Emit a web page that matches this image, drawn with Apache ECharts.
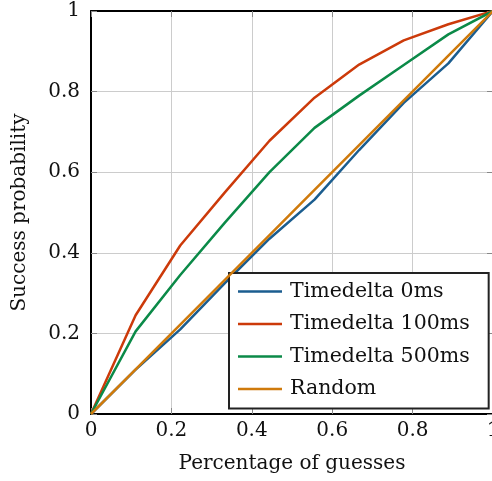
<!DOCTYPE html>
<html><head><meta charset="utf-8">
<script src="https://cdn.jsdelivr.net/npm/echarts@6/dist/echarts.min.js"></script>
<style>html,body{margin:0;padding:0;background:#fff}#c{width:492px;height:481px}</style>
</head><body><div id="c"></div>
<script>
const xValues = [0, 0.111, 0.222, 0.333, 0.444, 0.556, 0.667, 0.778, 0.889, 1];
const td0 = [0, 0.11, 0.21, 0.325, 0.435, 0.532, 0.655, 0.772, 0.87, 1];
const td100 = [0, 0.245, 0.418, 0.55, 0.678, 0.785, 0.867, 0.927, 0.967, 1];
const td500 = [0, 0.205, 0.345, 0.475, 0.6, 0.71, 0.79, 0.866, 0.942, 1];
const randomVals = [0, 0.111, 0.222, 0.333, 0.444, 0.556, 0.667, 0.778, 0.889, 1];
const seriesNames = ['Timedelta 0ms', 'Timedelta 100ms', 'Timedelta 500ms', 'Random'];
const colors = ['#1b5d8f', '#cc3a0a', '#0b8a48', '#cf7a0c'];
const tickLabelsX = ['0', '0.2', '0.4', '0.6', '0.8', '1'];
const tickLabelsY = ['0', '0.2', '0.4', '0.6', '0.8', '1'];

const FONT = 'DejaVu Serif';
const pair = ys => xValues.map((x, i) => [x, ys[i]]);
const allY = [td0, td100, td500, randomVals];

const fmt = labels => v => labels[Math.round(v / 0.2)] ?? '';

const chart = echarts.init(document.getElementById('c'), null, {renderer: 'canvas'});
chart.setOption({
  animation: false,
  backgroundColor: '#fff',
  grid: {left: 91, top: 11, width: 402, height: 403, containLabel: false, outerBoundsMode: 'none'},
  xAxis: [{
    type: 'value', min: 0, max: 1, interval: 0.2, position: 'bottom',
    name: 'Percentage of guesses', nameLocation: 'middle', nameGap: 40,
    nameTextStyle: {fontFamily: FONT, fontSize: 20, color: '#111'},
    axisLine: {show: true, onZero: false, lineStyle: {color: '#000', width: 2}},
    axisTick: {show: true, inside: true, length: 6, lineStyle: {color: '#888'}},
    axisLabel: {formatter: fmt(tickLabelsX), fontFamily: FONT, fontSize: 20, color: '#111', margin: 7},
    splitLine: {show: true, lineStyle: {color: '#cccccc', width: 1}}
  }, {
    type: 'value', min: 0, max: 1, interval: 0.2, position: 'top',
    axisLine: {show: true, onZero: false, lineStyle: {color: '#000', width: 2}},
    axisTick: {show: true, inside: true, length: 6, lineStyle: {color: '#888'}},
    axisLabel: {show: false}, splitLine: {show: false}
  }],
  yAxis: [{
    type: 'value', min: 0, max: 1, interval: 0.2, position: 'left',
    name: 'Success probability', nameLocation: 'middle', nameGap: 61,
    nameTextStyle: {fontFamily: FONT, fontSize: 20, color: '#111'},
    axisLine: {show: true, onZero: false, lineStyle: {color: '#000', width: 2}},
    axisTick: {show: true, inside: true, length: 6, lineStyle: {color: '#888'}},
    axisLabel: {formatter: fmt(tickLabelsY), fontFamily: FONT, fontSize: 20, color: '#111', margin: 11},
    splitLine: {show: true, lineStyle: {color: '#cccccc', width: 1}}
  }, {
    type: 'value', min: 0, max: 1, interval: 0.2, position: 'right',
    axisLine: {show: true, onZero: false, lineStyle: {color: '#000', width: 2}},
    axisTick: {show: true, inside: true, length: 6, lineStyle: {color: '#888'}},
    axisLabel: {show: false}, splitLine: {show: false}
  }],
  legend: {
    orient: 'vertical', left: 229, top: 273,
    backgroundColor: '#fff', borderColor: '#222', borderWidth: 2, borderRadius: 0,
    padding: [8, 19, 9, 9],
    icon: 'path://M0,0L44,0L44,2.5L0,2.5Z',
    itemWidth: 44, itemHeight: 20, itemGap: 11.5,
    textStyle: {fontFamily: FONT, fontSize: 20.5, color: '#111', padding: [0, 0, 0, 3]},
    data: seriesNames
  },
  series: seriesNames.map((name, i) => ({
    name, type: 'line', data: pair(allY[i]), symbol: 'none', showSymbol: false,
    lineStyle: {color: colors[i], width: 2.5}, itemStyle: {color: colors[i]},
    z: 2 + i
  }))
});
</script></body></html>
